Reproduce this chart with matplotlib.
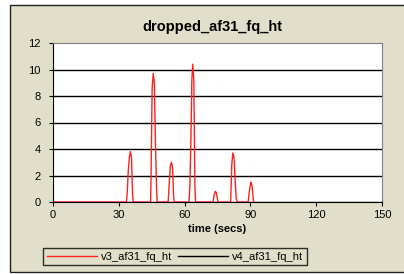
import matplotlib
matplotlib.use("Agg")
import matplotlib.pyplot as plt
from matplotlib.patches import Rectangle

plt.rcParams["font.family"] = ["Liberation Sans", "DejaVu Sans"]

# --- data ---
v3_time = [0, 33.5, 33.8, 34.3, 34.8, 35.3, 35.8, 36.3, 36.6,
           44.5, 44.7, 45.2, 45.7, 46.2, 46.7, 47.2, 47.5,
           52.5, 53.0, 53.5, 54.0, 54.5, 55.0, 55.3,
           62.0, 62.4, 62.9, 63.3, 63.7, 64.2, 64.7, 65.0,
           73.0, 73.4, 74.0, 74.5, 75.0, 75.2,
           81.0, 81.5, 82.0, 82.5, 83.0, 83.5, 84.0,
           89.0, 89.5, 90.0, 90.3, 90.8, 91.3, 91.6]
v3_vals = [0, 0, 0.6, 2.3, 3.4, 3.8, 3.3, 0.5, 0,
           0, 1.8, 8.6, 9.7, 9.0, 4.5, 1.1, 0,
           0, 1.4, 2.7, 3.0, 2.6, 0.4, 0,
           0, 1.2, 4.9, 9.2, 10.4, 9.2, 1.2, 0,
           0, 0.5, 0.8, 0.7, 0.2, 0,
           0, 2.8, 3.7, 3.4, 1.8, 0.3, 0,
           0, 0.8, 1.3, 1.5, 1.2, 0.2, 0]
v4_time = [0, 150]
v4_vals = [0, 0]

x_ticks = [0, 30, 60, 90, 120, 150]
y_ticks = [0, 2, 4, 6, 8, 10, 12]

fig = plt.figure(figsize=(4.04, 2.74), dpi=100, facecolor="white")
W, H = 404, 274

# beige chart area with dark frame
fig.patches.append(Rectangle((10 / W, 1 - 272 / H), 400 / W, 267 / H,
                             transform=fig.transFigure, facecolor="#E1DFC9",
                             edgecolor="#202020", linewidth=1.0, zorder=-5))

ax = fig.add_axes([53 / W, 1 - 202 / H, (382 - 53) / W, (202 - 43) / H])
ax.set_zorder(2)
ax.set_facecolor("white")

for y in y_ticks[1:-1]:
    ax.axhline(y, color="black", linewidth=1.0, zorder=1)

ax.plot(v4_time, v4_vals, color="black", linewidth=1.0, zorder=2,
        label="v4_af31_fq_ht")
ax.plot(v3_time, v3_vals, color="#FF2020", linewidth=1.0, zorder=3,
        label="v3_af31_fq_ht")

ax.set_xlim(0, 150)
ax.set_ylim(0, 12)
ax.set_xticks(x_ticks)
ax.set_yticks(y_ticks)
ax.tick_params(labelsize=8, length=3, width=0.8, color="black")
ax.tick_params(axis="y", pad=6)
ax.tick_params(axis="x", pad=3)
for s in ax.spines.values():
    s.set_color("#808080")
ax.spines["left"].set_color("black")
ax.spines["bottom"].set_color("black")

ax.set_xlabel("time (secs)", fontsize=8, fontweight="bold", labelpad=3)
fig.text(212 / W, 1 - 27 / H, "dropped_af31_fq_ht", ha="center", va="center",
         fontsize=10.5, fontweight="bold")

h, l = ax.get_legend_handles_labels()
leg = fig.legend(h[::-1], l[::-1], ncol=2, fontsize=8, loc="center",
                 bbox_to_anchor=(175 / W, 1 - 256.5 / H), frameon=True,
                 fancybox=False, handlelength=4.5, handletextpad=0.4,
                 columnspacing=0.5, borderpad=0.3)
leg.set_zorder(3)
leg.get_frame().set_edgecolor("black")
leg.get_frame().set_linewidth(1.0)
leg.get_frame().set_facecolor("#E1DFC9")

fig.savefig("out.png", dpi=100, facecolor="white")
